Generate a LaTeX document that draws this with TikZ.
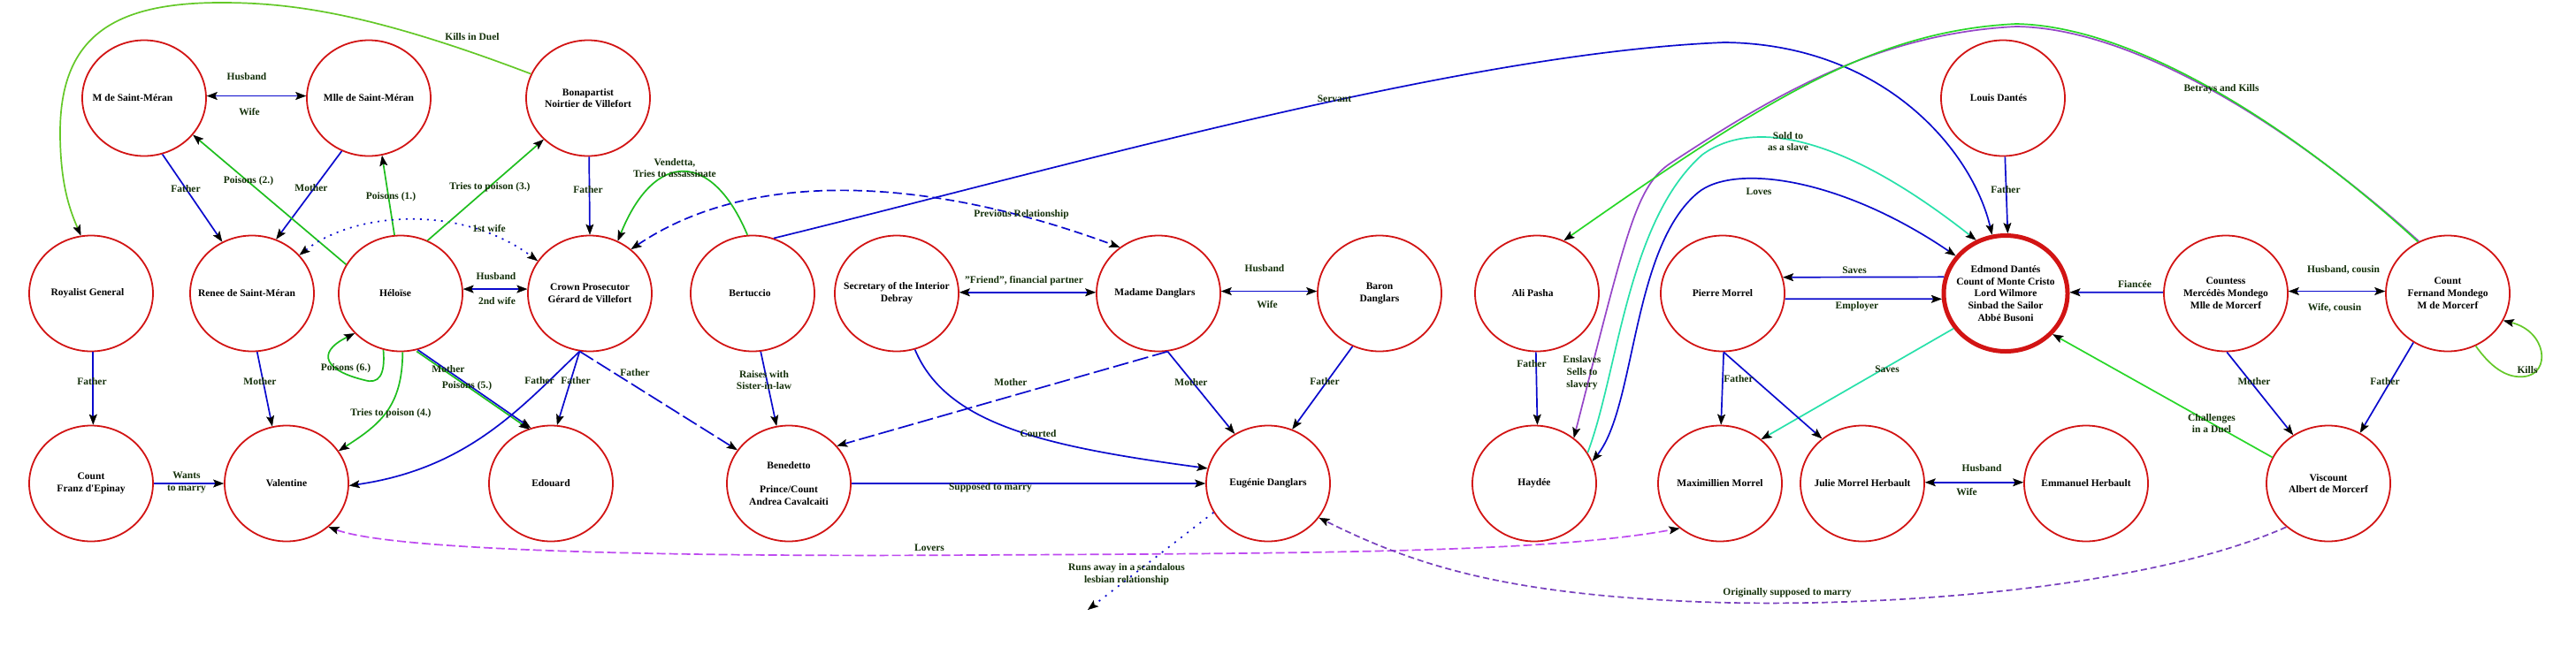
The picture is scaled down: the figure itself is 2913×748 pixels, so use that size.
\documentclass[tikz,border=0pt]{standalone}
\usepackage{fontspec}
\setmainfont{Liberation Serif}
\usetikzlibrary{shapes.geometric,arrows.meta}
\definecolor{nred}{RGB}{210,20,20}
\definecolor{eblue}{RGB}{10,10,205}
\definecolor{egreen}{RGB}{30,190,30}
\definecolor{elime}{RGB}{100,200,40}
\definecolor{egreenb}{RGB}{40,215,40}
\definecolor{ecyan}{RGB}{40,225,170}
\definecolor{epurp}{RGB}{150,70,200}
\definecolor{elov}{RGB}{190,75,240}
\definecolor{eorig}{RGB}{120,65,190}
\definecolor{ltxt}{RGB}{20,48,10}
\tikzset{
 per/.style={ellipse, draw=nred, line width=1.8pt, minimum width=140pt, minimum height=131pt, inner sep=-15pt, align=center, font=\bfseries\fontsize{11.5}{13.8}\selectfont},
 hero/.style={per, line width=5pt},
 lab/.style={text=ltxt, align=center, inner sep=0pt, font=\bfseries\fontsize{11.5}{13.8}\selectfont},
 con/.style={line width=1.7pt},
 one/.style={con, arrows={-Stealth[length=12pt,width=9pt,inset=2.5pt,color=black,line width=0.4pt]}},
 two/.style={con, arrows={Stealth[length=12pt,width=9pt,inset=2.5pt,color=black,line width=0.4pt]-Stealth[length=12pt,width=9pt,inset=2.5pt,color=black,line width=0.4pt]}},
 dashA/.style={dash pattern=on 10pt off 5pt},
 dashB/.style={dash pattern=on 18pt off 5pt},
 dashC/.style={dash pattern=on 10pt off 4pt},
 dashD/.style={dash pattern=on 7pt off 4pt},
 dotA/.style={dash pattern=on 2pt off 6pt},
 dotB/.style={dash pattern=on 2pt off 7pt},
}
\begin{document}
\begin{tikzpicture}[x=1pt,y=-1pt]
\useasboundingbox (0,0) rectangle (2913,748);
\fill[white] (0,0) rectangle (2913,748);
% ---- people
\node[per] (msm) at (163,111) {M de Saint-Méran\hspace*{26pt}};
\node[per] (mlle) at (417,111) {Mlle de Saint-Méran};
\node[per] (noir) at (665,111) {Bonapartist\\Noirtier de Villefort};
\node[per] (louis) at (2265,111) {Louis Dantés\hspace*{10pt}};
\node[per] (royal) at (103,332) {Royalist General\hspace*{8pt}};
\node[per] (renee) at (285,332) {Renee de Saint-Méran\hspace*{12pt}};
\node[per] (helo) at (453,332) {Héloïse\hspace*{12pt}};
\node[per] (crown) at (667,332) {Crown Prosecutor\\Gérard de Villefort};
\node[per] (bert) at (851,332) {Bertuccio\hspace*{6pt}};
\node[per] (sec) at (1014,332) {Secretary of the Interior\\Debray};
\node[per] (mdang) at (1310,332) {Madame Danglars\hspace*{8pt}};
\node[per] (baron) at (1560,332) {Baron\\Danglars};
\node[per] (ali) at (1738,332) {Ali Pasha\hspace*{10pt}};
\node[per] (pierre) at (1948,332) {Pierre Morrel};
\node[hero] (edm) at (2268,332) {Edmond Dantés\\Count of Monte Cristo\\Lord Wilmore\\Sinbad the Sailor\\Abbé Busoni};
\node[per] (countess) at (2517,332) {Countess\\Mercédès Mondego\\Mlle de Morcerf};
\node[per] (fern) at (2768,332) {Count\\Fernand Mondego\\M de Morcerf};
\node[per] (franz) at (103,547) {Count\\Franz d\textquotesingle Epinay};
\node[per] (val) at (324,547) {Valentine};
\node[per] (edou) at (623,547) {Edouard};
\node[per] (bene) at (892,547) {Benedetto\\[14pt]Prince/Count\\Andrea Cavalcaiti};
\node[per] (eug) at (1434,547) {Eugénie Danglars};
\node[per] (hay) at (1735,547) {Haydée};
\node[per] (max) at (1945,547) {Maximillien Morrel};
\node[per] (julie) at (2106,547) {Julie Morrel Herbault};
\node[per] (emm) at (2359,547) {Emmanuel Herbault};
\node[per] (alb) at (2633,547) {Viscount\\Albert de Morcerf};
\coordinate (away) at (1230,690);
% ---- connectors
\draw[one, elime] (noir.157) .. controls (420,15) and (330,3) .. (250,3) .. controls (130,3) and (68,40) .. (68,150) .. controls (68,210) and (80,240) .. (royal.100);
\node[lab] (l1) at (534,42) {Kills in Duel};
\draw[two, eblue] (msm.2) -- (mlle.178);
\node[lab] (l2a) at (279,87) {Husband};
\node[lab] (l2b) at (282,127) {Wife};
\draw[one, eblue] (msm.-72) -- (renee.120);
\node[lab] (l3) at (210,214) {Father};
\draw[one, eblue] (mlle.-117) -- (renee.66);
\node[lab] (l4) at (352,213) {Mother};
\draw[one, egreen] (helo.152) -- (msm.-37);
\node[lab] (l5) at (281,205) {Poisons (2.)};
\draw[one, egreen] (helo.96) -- (mlle.-77);
\node[lab] (l6) at (442,223) {Poisons (1.)};
\draw[two, eblue, dotA] (renee.39) .. controls (400,240) and (520,230) .. (crown.148);
\node[lab] (l7) at (553,258) {1st wife};
\draw[two, eblue] (helo.4) -- (crown.176);
\node[lab] (l8a) at (561,313) {Husband};
\node[lab] (l8b) at (562,340) {2nd wife};
\draw[one, egreen] (helo.63) -- (noir.223);
\node[lab] (l9) at (554,212) {Tries to poison (3.)};
\draw[one, eblue] (noir.-89) -- (crown.90);
\node[lab] (l10) at (665,215) {Father};
\draw[one, egreen] (bert.95) .. controls (805,170) and (740,170) .. (crown.62);
\node[lab] (l11) at (763,190) {Vendetta,\\Tries to assassinate};
\draw[two, eblue, dashA] (crown.47) .. controls (850,190) and (1050,200) .. (mdang.130);
\node[lab] (l12) at (1155,243) {Previous Relationship};
\draw[one, eblue] (bert.69) .. controls (1200,190) and (1650,60) .. (1950,48) .. controls (2130,50) and (2230,170) .. (edm.103);
\node[lab] (l13) at (1509,112) {Servant};
\draw[one, eblue] (louis.-88) -- (edm.88);
\node[lab] (l14) at (2268,215) {Father};
\draw[one, eblue] (edm.165) -- (pierre.15.6);
\node[lab] (l15) at (2097,306) {Saves};
\draw[one, eblue] (pierre.-5.2) -- (edm.185);
\node[lab] (l16) at (2100,347) {Employer};
\draw[one, eblue] (countess.179) -- (edm.1);
\node[lab] (l17) at (2414,322) {Fiancée};
\draw[two, eblue] (countess.2) -- (fern.178);
\node[lab] (l18a) at (2650,305) {Husband, cousin};
\node[lab] (l18b) at (2640,348) {Wife, cousin};
\draw[one, epurp] (fern.119) .. controls (2603,153) and (2420,32) .. (2280,30) .. controls (2120,38) and (2000,112) .. (1890,184) .. controls (1850,210) and (1840,260) .. (hay.49);
\draw[one, egreenb] (fern.120) .. controls (2600,150) and (2420,30) .. (2280,27) .. controls (2120,35) and (2000,110) .. (ali.63);
\node[lab] (l19) at (2512,101) {Betrays and Kills};
\node[lab] (l19b) at (1789,422) {Enslaves\\Sells to\\slavery};
\draw[two, eblue] (hay.21) .. controls (1850,460) and (1845,280) .. (1920,218) .. controls (1960,185) and (2080,200) .. (edm.143);
\node[lab] (l20) at (1989,217) {Loves};
\draw[one, ecyan] (hay.30) .. controls (1830,420) and (1840,250) .. (1925,175) .. controls (1980,135) and (2080,150) .. (edm.119);
\node[lab] (l21) at (2022,160) {Sold to\\as a slave};
\draw[one, eblue] (ali.-91) -- (hay.87);
\node[lab] (l22) at (1732,412) {Father};
\draw[one, ecyan] (edm.214) -- (max.47);
\node[lab] (l23) at (2134,418) {Saves};
\draw[one, eblue] (pierre.-89) -- (max.89);
\draw[one, eblue] (pierre.-89) -- (julie.132);
\node[lab] (l24) at (1966,429) {Father};
\draw[two, eblue] (julie.1) -- (emm.179);
\node[lab] (l26a) at (2241,530) {Husband};
\node[lab] (l26b) at (2224,557) {Wife};
\draw[one, egreenb] (alb.155) -- (edm.-41);
\node[lab] (l27) at (2501,479) {Challenges\\in a Duel};
\draw[one, eblue] (countess.-89) -- (alb.126);
\node[lab] (l28) at (2549,432) {Mother};
\draw[one, eblue] (fern.-125) -- (alb.58);
\node[lab] (l29) at (2697,432) {Father};
\draw[one, elime] (fern.-62) .. controls (2820,420) and (2838,428) .. (2855,426) .. controls (2885,422) and (2880,375) .. (fern.-26);
\node[lab] (l30) at (2858,419) {Kills};
\draw[one, egreen] (helo.-107) .. controls (436,425) and (428,435) .. (412,430) .. controls (370,420) and (355,400) .. (helo.-139);
\node[lab] (l31) at (391,417) {Poisons (6.)};
\draw[one, egreen] (helo.-88) .. controls (455,460) and (430,480) .. (val.32);
\node[lab] (l32) at (442,468) {Tries to poison (4.)};
\draw[one, egreen, transform canvas={xshift=-1.3pt,yshift=-1.7pt}] (helo.-73) -- (edou.110);
\draw[one, eblue] (helo.-73) -- (edou.110);
\node[lab] (l33a) at (507,418) {Mother};
\node[lab] (l33b) at (528,437) {Poisons (5.)};
\draw[one, eblue] (crown.-100) .. controls (590,460) and (530,530) .. (val.-2);
\node[lab] (l34) at (610,431) {Father};
\draw[one, eblue] (crown.-100) -- (edou.84);
\node[lab] (l35) at (651,431) {Father};
\draw[one, eblue, dashB] (crown.-100) -- (bene.147);
\node[lab] (l36) at (718,422) {Father};
\draw[one, eblue] (bert.-82) -- (bene.102);
\node[lab] (l37) at (864,430) {Raises with\\Sister-in-law};
\draw[one, eblue] (bene.0) -- (eug.180);
\node[lab] (l38) at (1120,552) {Supposed to marry};
\draw[one, eblue, dashB] (mdang.-81) -- (bene.38);
\node[lab] (l39) at (1143,433) {Mother};
\draw[one, eblue] (mdang.-81) -- (eug.124);
\node[lab] (l40) at (1347,433) {Mother};
\draw[one, eblue] (sec.-72) .. controls (1070,480) and (1180,505) .. (eug.166);
\node[lab] (l41) at (1174,491) {Courted};
\draw[two, eblue] (sec.1) -- (mdang.179);
\node[lab] (l42) at (1158,318) {"Friend", financial partner};
\draw[two, eblue] (mdang.2) -- (baron.178);
\node[lab] (l43a) at (1430,304) {Husband};
\node[lab] (l43b) at (1433,345) {Wife};
\draw[one, eblue] (baron.-117) -- (eug.66);
\node[lab] (l44) at (1498,432) {Father};
\draw[one, eblue] (franz.0) -- (val.180);
\node[lab] (l45) at (211,546) {Wants\\to marry};
\draw[one, eblue] (royal.-88) -- (franz.88);
\node[lab] (l46) at (104,432) {Father};
\draw[one, eblue] (renee.-85) -- (val.104);
\node[lab] (l47) at (294,432) {Mother};
\draw[two, elov, dashC] (val.-46) .. controls (450,625) and (800,630) .. (1100,628) .. controls (1500,626) and (1750,625) .. (max.-132);
\node[lab] (l48) at (1051,620) {Lovers};
\draw[one, eorig, dashD] (alb.-134) .. controls (2420,670) and (2100,690) .. (1900,680) .. controls (1700,670) and (1600,640) .. (eug.-34);
\node[lab] (l49) at (2021,671) {Originally supposed to marry};
\draw[one, eblue, dotB] (eug.-152) -- (away);
\node[lab] (l50) at (1274,650) {Runs away in a scandalous\\lesbian relationship};
\end{tikzpicture}
\end{document}
